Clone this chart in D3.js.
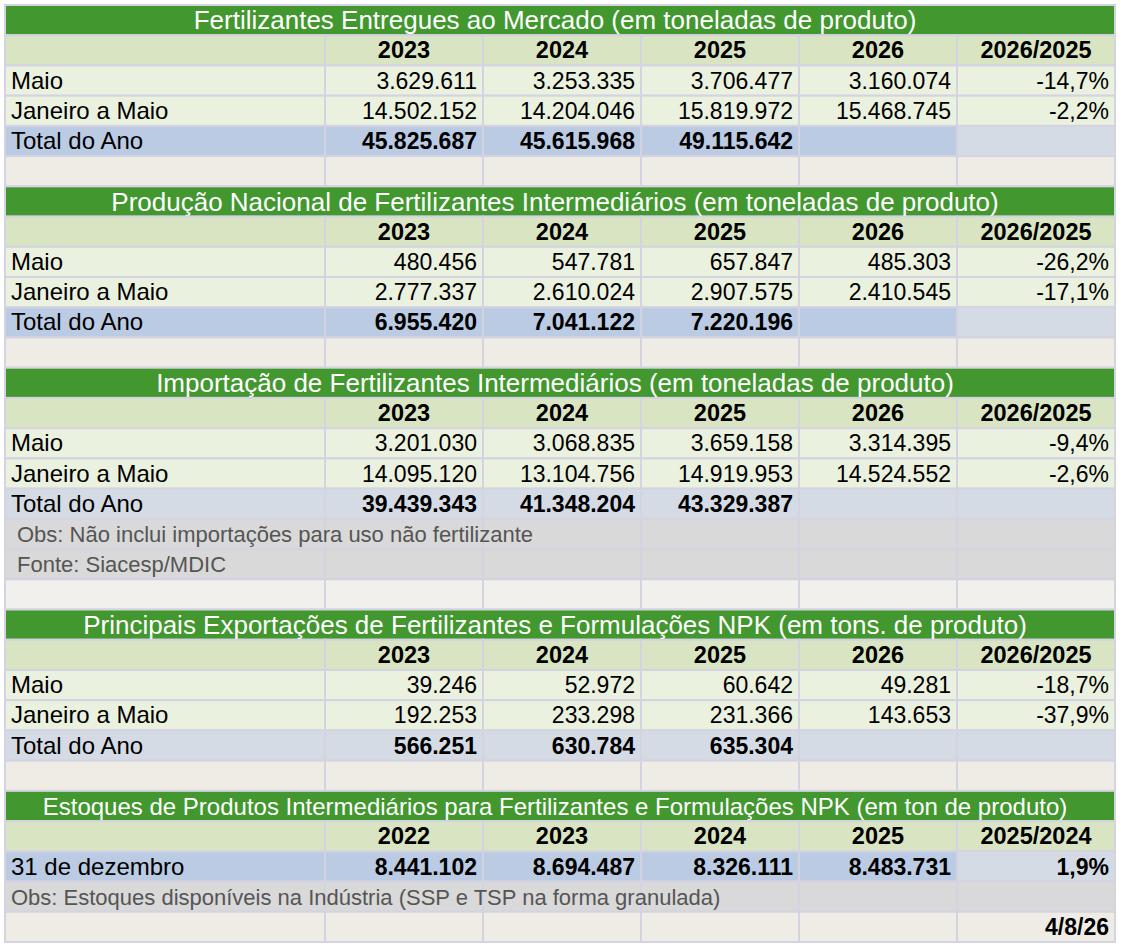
<!DOCTYPE html>
<html>
<head>
<meta charset="utf-8">
<script src="https://cdn.jsdelivr.net/npm/d3@7"></script>
<style>
  body { margin: 0; background: #fff; }
  svg text { font-family: "Liberation Sans", Arial, sans-serif; }
</style>
</head>
<body>
<div id="chart-area"></div>
<script>
var anos = ["2023", "2024", "2025", "2026"];
var colVar = "2026/2025";

var titulo1 = "Fertilizantes Entregues ao Mercado (em toneladas de produto)";
var entreguesMaio = [3629611, 3253335, 3706477, 3160074];
var entreguesJanMaio = [14502152, 14204046, 15819972, 15468745];
var entreguesTotal = [45825687, 45615968, 49115642];
var entreguesVar = [-14.7, -2.2];

var titulo2 = "Produção Nacional de Fertilizantes Intermediários (em toneladas de produto)";
var producaoMaio = [480456, 547781, 657847, 485303];
var producaoJanMaio = [2777337, 2610024, 2907575, 2410545];
var producaoTotal = [6955420, 7041122, 7220196];
var producaoVar = [-26.2, -17.1];

var titulo3 = "Importação de Fertilizantes Intermediários (em toneladas de produto)";
var importMaio = [3201030, 3068835, 3659158, 3314395];
var importJanMaio = [14095120, 13104756, 14919953, 14524552];
var importTotal = [39439343, 41348204, 43329387];
var importVar = [-9.4, -2.6];
var importObs = ["Obs: Não inclui importações para uso não fertilizante", "Fonte: Siacesp/MDIC"];

var titulo4 = "Principais Exportações de Fertilizantes e Formulações NPK (em tons. de produto)";
var exportMaio = [39246, 52972, 60642, 49281];
var exportJanMaio = [192253, 233298, 231366, 143653];
var exportTotal = [566251, 630784, 635304];
var exportVar = [-18.7, -37.9];

var titulo5 = "Estoques de Produtos Intermediários para Fertilizantes e Formulações NPK (em ton de produto)";
var anosEstoque = ["2022", "2023", "2024", "2025"];
var colVarEstoque = "2025/2024";
var estoqueDez = [8441102, 8694487, 8326111, 8483731];
var estoqueVar = [1.9];
var estoqueObs = "Obs: Estoques disponíveis na Indústria (SSP e TSP na forma granulada)";
var dataAtualizacao = "4/8/26";

var br = d3.formatLocale({decimal: ",", thousands: ".", grouping: [3], currency: ["", ""], minus: "-"});
var fmtInt = br.format(",d");
var fmtVar = function(v) { return br.format(",.1f")(v) + "%"; };

// monta as linhas da tabela
var rows = [];
function secao(titulo, maio, jan, total, vars, totalStyle) {
  rows.push({type: "title", text: titulo, size: 26});
  rows.push({type: "header", cells: anos.concat([colVar])});
  rows.push({type: "data", label: "Maio", cells: maio.map(fmtInt).concat([fmtVar(vars[0])])});
  rows.push({type: "data", label: "Janeiro a Maio", cells: jan.map(fmtInt).concat([fmtVar(vars[1])])});
  rows.push({type: "total", label: "Total do Ano", cells: total.map(fmtInt).concat(["", ""]), style: totalStyle});
}
secao(titulo1, entreguesMaio, entreguesJanMaio, entreguesTotal, entreguesVar, "blue");
rows.push({type: "blank"});
secao(titulo2, producaoMaio, producaoJanMaio, producaoTotal, producaoVar, "blue");
rows.push({type: "blank"});
secao(titulo3, importMaio, importJanMaio, importTotal, importVar, "light");
importObs.forEach(function(t) { rows.push({type: "note", text: t, indent: 12}); });
rows.push({type: "blank", fill: "#f1f0ed"});
secao(titulo4, exportMaio, exportJanMaio, exportTotal, exportVar, "light");
rows.push({type: "blank"});
rows.push({type: "title", text: titulo5, size: 24});
rows.push({type: "header", cells: anosEstoque.concat([colVarEstoque])});
rows.push({type: "total", label: "31 de dezembro", cells: estoqueDez.map(fmtInt).concat([fmtVar(estoqueVar[0])]), style: "blue"});
rows.push({type: "note", text: estoqueObs, indent: 6});
rows.push({type: "blank", cells: ["", "", "", "", dataAtualizacao]});

var width = 1126, height = 948;
var left = 5, labelW = 320, right = 1115;

var svg = d3.select("#chart-area").append("svg")
    .attr("width", width)
    .attr("height", height);

var y = d3.scaleBand()
    .domain(d3.range(rows.length))
    .range([5, 942]);

var x = d3.scaleBand()
    .domain(d3.range(5))
    .range([left + labelW, right]);

var green = "#42972f",
    headGreen = "#d9e4c2",
    rowGreen = "#ebf1df",
    blue = "#bacbe3",
    lightBlue = "#d5dbe5",
    beige = "#eeece4",
    gray = "#d9d9d9",
    gridColor = "#d3d3e1";

function cellFill(row, i) {
  if (row.type == "header") return headGreen;
  if (row.type == "data") return rowGreen;
  if (row.type == "note") return gray;
  if (row.type == "total") {
    if (row.style == "light") return lightBlue;
    return i == 4 ? lightBlue : blue;
  }
  return row.fill || beige;
}

var g = svg.selectAll("g.row")
    .data(rows)
    .enter().append("g")
    .attr("class", "row")
    .attr("transform", function(d, i) { return "translate(0," + y(i) + ")"; });

var h = y.bandwidth();

g.each(function(row) {
  var sel = d3.select(this);
  if (row.type == "title") {
    sel.append("rect")
      .attr("x", left).attr("y", 0)
      .attr("width", right - left).attr("height", h)
      .attr("fill", green)
      .attr("stroke", gridColor).attr("stroke-width", 2);
    sel.append("text")
      .attr("x", (left + right) / 2 - 5)
      .attr("y", h - 6)
      .attr("text-anchor", "middle")
      .attr("font-size", row.size)
      .attr("fill", "#fff")
      .text(row.text);
    return;
  }
  // celula do rotulo
  sel.append("rect")
    .attr("x", left).attr("y", 0)
    .attr("width", labelW).attr("height", h)
    .attr("fill", cellFill(row, -1))
    .attr("stroke", gridColor).attr("stroke-width", 2);
  sel.selectAll("rect.cell")
    .data(d3.range(5))
    .enter().append("rect")
    .attr("class", "cell")
    .attr("x", function(i) { return x(i); })
    .attr("y", 0)
    .attr("width", x.bandwidth())
    .attr("height", h)
    .attr("fill", function(i) { return cellFill(row, i); })
    .attr("stroke", gridColor).attr("stroke-width", 2);

  if (row.label) {
    sel.append("text")
      .attr("x", left + 6)
      .attr("y", h - 7)
      .attr("font-size", 24)
      .attr("fill", "#000")
      .text(row.label);
  }
  if (row.type == "note") {
    sel.append("text")
      .attr("x", left + row.indent)
      .attr("y", h - 7)
      .attr("font-size", 22)
      .attr("fill", "#555")
      .text(row.text);
  }
  if (row.cells) {
    var bold = row.type != "data";
    sel.selectAll("text.val")
      .data(row.cells)
      .enter().append("text")
      .attr("class", "val")
      .attr("x", function(d, i) { return row.type == "header" ? x(i) + x.bandwidth() / 2 : x(i) + x.bandwidth() - 6; })
      .attr("y", h - 7)
      .attr("text-anchor", row.type == "header" ? "middle" : "end")
      .attr("font-size", row.type == "header" ? 23.5 : 23)
      .attr("font-weight", bold ? "bold" : "normal")
      .attr("fill", "#000")
      .text(function(d) { return d; });
  }
});
</script>
</body>
</html>
